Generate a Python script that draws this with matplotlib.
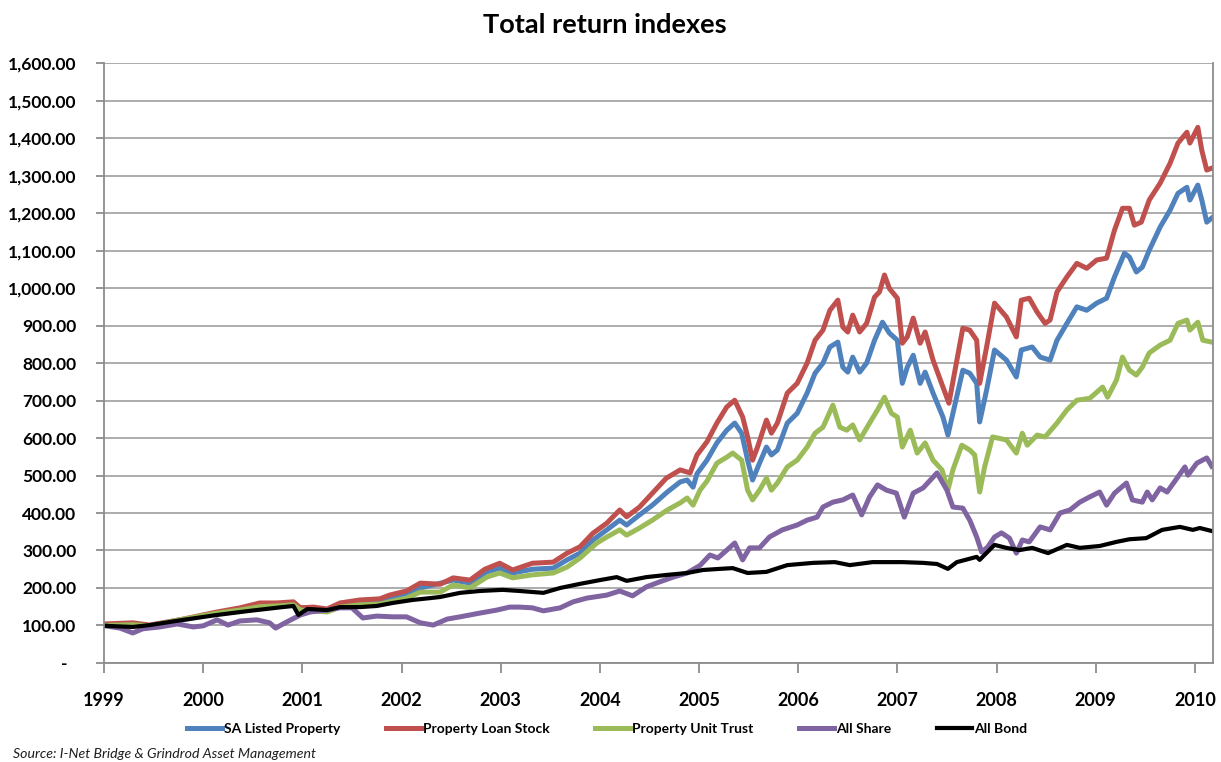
import matplotlib
matplotlib.use("Agg")
import matplotlib.pyplot as plt
from matplotlib.ticker import FuncFormatter, FixedLocator

plt.rcParams['font.family'] = ['Lato', 'DejaVu Sans']

# SA Listed Property
sa_x = [1999.01, 1999.29, 1999.46, 1999.80, 2000.14, 2000.37, 2000.57, 2000.74, 2000.91, 2000.98,
        2001.11, 2001.25, 2001.38, 2001.58, 2001.78, 2001.88, 2002.05, 2002.19, 2002.52, 2002.69,
        2002.86, 2002.99, 2003.12, 2003.32, 2003.53, 2003.67, 2003.80, 2003.93, 2004.07, 2004.20,
        2004.27, 2004.40, 2004.53, 2004.68, 2004.81, 2004.88, 2004.94, 2004.98, 2005.08, 2005.18,
        2005.28, 2005.36, 2005.43, 2005.49, 2005.54, 2005.61, 2005.68, 2005.73, 2005.79, 2005.89,
        2005.99, 2006.09, 2006.17, 2006.25, 2006.32, 2006.40, 2006.45, 2006.50, 2006.55, 2006.62,
        2006.69, 2006.77, 2006.85, 2006.92, 2007.00, 2007.05, 2007.10, 2007.16, 2007.23, 2007.28,
        2007.36, 2007.46, 2007.51, 2007.66, 2007.73, 2007.80, 2007.83, 2007.90, 2007.98, 2008.10,
        2008.20, 2008.25, 2008.36, 2008.44, 2008.54, 2008.61, 2008.71, 2008.81, 2008.91, 2009.01,
        2009.11, 2009.19, 2009.29, 2009.34, 2009.41, 2009.47, 2009.54, 2009.65, 2009.75, 2009.83,
        2009.92, 2009.95, 2010.03, 2010.07, 2010.12, 2010.17]
sa_y = [102, 104, 99, 115, 133, 143, 152, 155, 157, 147,
        147, 141, 155, 163, 165, 173, 184, 200, 221, 213,
        243, 253, 240, 250, 253, 275, 293, 328, 355, 381,
        368, 395, 421, 456, 483, 488, 469, 505, 541, 587,
        621, 640, 613, 541, 488, 533, 576, 555, 568, 640,
        666, 720, 773, 800, 843, 856, 789, 776, 816, 776,
        800, 861, 909, 880, 861, 746, 789, 821, 746, 776,
        720, 656, 608, 781, 773, 746, 643, 728, 835, 808,
        763, 835, 843, 816, 808, 861, 906, 950, 941, 960,
        973, 1030, 1093, 1083, 1043, 1056, 1101, 1163, 1208, 1253,
        1269, 1235, 1275, 1235, 1176, 1187]

# Property Loan Stock
pls_x = [1999.01, 1999.29, 1999.46, 1999.80, 2000.14, 2000.37, 2000.57, 2000.74, 2000.91, 2000.98,
         2001.11, 2001.25, 2001.38, 2001.58, 2001.78, 2001.88, 2002.05, 2002.19, 2002.39, 2002.52,
         2002.69, 2002.84, 2002.99, 2003.12, 2003.32, 2003.53, 2003.67, 2003.80, 2003.93, 2004.07,
         2004.20, 2004.27, 2004.40, 2004.53, 2004.67, 2004.81, 2004.91, 2004.98, 2005.08, 2005.18,
         2005.28, 2005.36, 2005.44, 2005.49, 2005.54, 2005.59, 2005.68, 2005.73, 2005.79, 2005.89,
         2005.99, 2006.09, 2006.17, 2006.25, 2006.32, 2006.40, 2006.45, 2006.50, 2006.55, 2006.62,
         2006.69, 2006.77, 2006.82, 2006.87, 2006.92, 2007.00, 2007.05, 2007.10, 2007.16, 2007.23,
         2007.28, 2007.36, 2007.46, 2007.52, 2007.66, 2007.73, 2007.80, 2007.83, 2007.90, 2007.98,
         2008.10, 2008.20, 2008.25, 2008.33, 2008.41, 2008.49, 2008.54, 2008.61, 2008.71, 2008.81,
         2008.91, 2009.01, 2009.11, 2009.19, 2009.27, 2009.34, 2009.39, 2009.46, 2009.54, 2009.65,
         2009.75, 2009.83, 2009.92, 2009.95, 2010.03, 2010.07, 2010.12, 2010.17]
pls_y = [104, 107, 101, 117, 136, 147, 160, 160, 163, 147,
         149, 144, 160, 168, 171, 181, 192, 213, 210, 227,
         221, 250, 266, 248, 266, 269, 293, 310, 346, 373,
         408, 390, 416, 453, 493, 515, 507, 555, 590, 640,
         683, 701, 656, 603, 541, 576, 648, 613, 640, 720,
         746, 800, 861, 888, 941, 968, 896, 883, 928, 883,
         906, 976, 990, 1035, 999, 973, 853, 870, 920, 853,
         883, 808, 736, 693, 893, 888, 861, 746, 843, 960,
         923, 870, 968, 973, 936, 906, 915, 990, 1030, 1066,
         1053, 1075, 1080, 1155, 1213, 1213, 1168, 1176, 1235, 1280,
         1333, 1387, 1416, 1387, 1429, 1368, 1315, 1320]

# Property Unit Trust
put_x = [1999.01, 1999.29, 1999.46, 1999.80, 2000.14, 2000.37, 2000.57, 2000.74, 2000.91, 2000.98,
         2001.11, 2001.25, 2001.38, 2001.58, 2001.78, 2001.88, 2002.05, 2002.19, 2002.39, 2002.52,
         2002.69, 2002.86, 2002.99, 2003.12, 2003.32, 2003.53, 2003.67, 2003.80, 2003.97, 2004.07,
         2004.20, 2004.27, 2004.40, 2004.53, 2004.68, 2004.81, 2004.88, 2004.94, 2005.01, 2005.08,
         2005.18, 2005.28, 2005.34, 2005.43, 2005.49, 2005.54, 2005.61, 2005.68, 2005.73, 2005.79,
         2005.89, 2005.99, 2006.09, 2006.17, 2006.25, 2006.35, 2006.42, 2006.49, 2006.55, 2006.62,
         2006.72, 2006.80, 2006.87, 2006.94, 2007.00, 2007.05, 2007.13, 2007.20, 2007.28, 2007.36,
         2007.45, 2007.51, 2007.56, 2007.65, 2007.73, 2007.78, 2007.83, 2007.88, 2007.96, 2008.10,
         2008.20, 2008.26, 2008.31, 2008.41, 2008.49, 2008.61, 2008.71, 2008.81, 2008.94, 2009.07,
         2009.12, 2009.21, 2009.27, 2009.34, 2009.41, 2009.47, 2009.54, 2009.65, 2009.75, 2009.83,
         2009.92, 2009.95, 2010.03, 2010.08, 2010.17]
put_y = [100, 102, 99, 117, 133, 141, 150, 152, 155, 141,
         139, 136, 149, 155, 157, 163, 173, 189, 189, 208,
         200, 229, 240, 227, 235, 240, 256, 280, 320, 336,
         355, 341, 360, 381, 408, 427, 440, 421, 461, 485,
         533, 549, 560, 541, 461, 435, 461, 493, 461, 480,
         523, 541, 576, 613, 629, 688, 629, 621, 635, 595,
         640, 675, 709, 666, 656, 576, 621, 560, 587, 541,
         515, 461, 515, 581, 568, 555, 456, 523, 603, 595,
         560, 613, 581, 608, 603, 640, 675, 701, 706, 736,
         709, 755, 816, 781, 768, 789, 827, 848, 861, 906,
         915, 888, 909, 861, 856]

# All Share
alsi_x = [1999.01, 1999.16, 1999.29, 1999.39, 1999.56, 1999.74, 1999.90, 2000.00, 2000.14, 2000.25,
          2000.37, 2000.54, 2000.67, 2000.73, 2000.84, 2000.98, 2001.08, 2001.25, 2001.38, 2001.50,
          2001.61, 2001.75, 2001.91, 2002.05, 2002.19, 2002.32, 2002.46, 2002.59, 2002.79, 2002.96,
          2003.09, 2003.19, 2003.32, 2003.43, 2003.60, 2003.73, 2003.87, 2004.07, 2004.20, 2004.33,
          2004.47, 2004.60, 2004.74, 2004.88, 2005.01, 2005.11, 2005.19, 2005.28, 2005.36, 2005.44,
          2005.51, 2005.61, 2005.71, 2005.84, 2005.99, 2006.09, 2006.19, 2006.25, 2006.35, 2006.45,
          2006.55, 2006.64, 2006.72, 2006.80, 2006.89, 2006.99, 2007.07, 2007.16, 2007.26, 2007.40,
          2007.50, 2007.56, 2007.66, 2007.73, 2007.80, 2007.85, 2007.91, 2007.98, 2008.05, 2008.13,
          2008.20, 2008.26, 2008.33, 2008.44, 2008.54, 2008.64, 2008.74, 2008.84, 2008.94, 2009.04,
          2009.11, 2009.19, 2009.31, 2009.37, 2009.47, 2009.52, 2009.57, 2009.65, 2009.72, 2009.82,
          2009.90, 2009.93, 2010.02, 2010.12, 2010.17]
alsi_y = [99, 93, 80, 91, 96, 104, 96, 99, 115, 101,
          112, 115, 107, 93, 109, 128, 136, 141, 147, 147,
          120, 125, 123, 123, 107, 101, 117, 123, 133, 141,
          149, 149, 147, 139, 147, 163, 173, 181, 192, 179,
          203, 216, 229, 240, 260, 288, 280, 301, 320, 275,
          307, 307, 336, 355, 368, 381, 389, 416, 429, 435,
          448, 395, 443, 475, 461, 453, 389, 453, 467, 507,
          461, 416, 413, 381, 336, 296, 309, 336, 347, 333,
          293, 328, 323, 363, 355, 400, 408, 429, 443, 456,
          421, 453, 480, 435, 429, 456, 435, 467, 456, 493,
          523, 501, 533, 547, 525]

# All Bond
albi_x = [1999.01, 1999.29, 1999.46, 1999.80, 2000.14, 2000.47, 2000.80, 2000.91, 2000.96, 2001.05,
          2001.25, 2001.38, 2001.58, 2001.75, 2001.91, 2002.11, 2002.29, 2002.39, 2002.59, 2002.79,
          2003.02, 2003.19, 2003.43, 2003.60, 2003.80, 2004.00, 2004.17, 2004.27, 2004.47, 2004.68,
          2004.88, 2005.04, 2005.21, 2005.34, 2005.49, 2005.68, 2005.89, 2006.15, 2006.37, 2006.52,
          2006.75, 2007.05, 2007.26, 2007.40, 2007.51, 2007.60, 2007.80, 2007.83, 2007.98, 2008.10,
          2008.23, 2008.36, 2008.52, 2008.71, 2008.84, 2009.04, 2009.21, 2009.34, 2009.51, 2009.67,
          2009.85, 2009.98, 2010.05, 2010.17]
albi_y = [99, 96, 101, 115, 128, 139, 149, 152, 128, 144,
          141, 149, 149, 152, 160, 168, 173, 176, 187, 192,
          195, 192, 187, 200, 211, 221, 229, 219, 229, 235,
          240, 248, 251, 253, 240, 243, 261, 267, 269, 261,
          269, 269, 267, 264, 251, 269, 283, 275, 315, 307,
          301, 307, 293, 315, 307, 312, 323, 330, 333, 355,
          363, 355, 360, 352]

years = list(range(1999, 2011))

fig = plt.figure(figsize=(12.21, 7.62), dpi=100)
ax = fig.add_axes([0.0852, 0.130, 0.908, 0.787])

ax.plot(sa_x, sa_y, color='#4F81BD', lw=3.6, label='SA Listed Property', solid_joinstyle='round')
ax.plot(pls_x, pls_y, color='#C0504D', lw=3.6, label='Property Loan Stock', solid_joinstyle='round')
ax.plot(put_x, put_y, color='#9BBB59', lw=3.6, label='Property Unit Trust', solid_joinstyle='round')
ax.plot(alsi_x, alsi_y, color='#8064A2', lw=3.6, label='All Share', solid_joinstyle='round')
ax.plot(albi_x, albi_y, color='#000000', lw=3.0, label='All Bond', solid_joinstyle='round')

ax.set_xlim(1999, 2010.18)
ax.set_ylim(0, 1600)
ax.yaxis.set_major_locator(FixedLocator(range(0, 1601, 100)))
ax.xaxis.set_major_locator(FixedLocator(years))


def yfmt(v, pos):
    if v == 0:
        return '-  '
    return '{:,.2f}'.format(v)


ax.yaxis.set_major_formatter(FuncFormatter(yfmt))
ax.grid(axis='y', color='#A6A6A6', lw=1.3)
ax.set_axisbelow(True)
for s in ['left', 'bottom', 'right']:
    ax.spines[s].set_color('#8C8C8C')
    ax.spines[s].set_linewidth(1.3)
ax.spines['top'].set_visible(False)
ax.tick_params(axis='y', length=6, color='#8C8C8C', width=1.3, pad=14, labelsize=12.5)
ax.tick_params(axis='x', length=7, color='#8C8C8C', width=1.3, pad=14, labelsize=13)
for lab in ax.get_xticklabels() + ax.get_yticklabels():
    lab.set_fontweight('bold')

fig.text(0.495, 0.967, 'Total return indexes', ha='center', va='center',
         fontsize=19.5, fontweight='bold')

fig.legend(loc='center', bbox_to_anchor=(0.497, 0.043), ncol=5, frameon=False,
           prop={'weight': 'bold', 'size': 10}, handlelength=2.5, handletextpad=0.15,
           columnspacing=3.3)

fig.text(0.011, 0.002, 'Source: I-Net Bridge & Grindrod Asset Management', ha='left',
         va='bottom', fontsize=10.2, style='italic', color='#1F1F1F')

fig.savefig('out.png', dpi=100)
